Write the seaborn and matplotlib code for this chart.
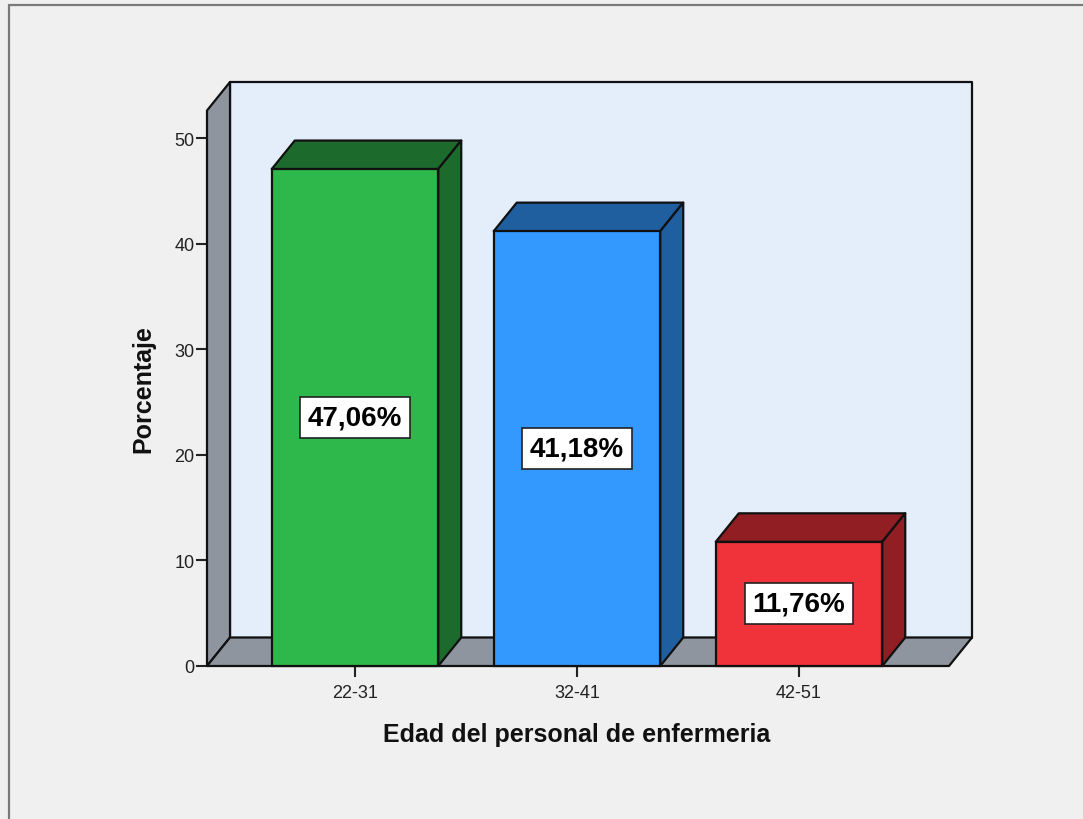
import matplotlib
matplotlib.use("Agg")
import matplotlib.pyplot as plt
from matplotlib.patches import Polygon, Rectangle
from matplotlib.lines import Line2D
import seaborn as sns
import pandas as pd

# Data
categories = ["22-31", "32-41", "42-51"]
percentages = [47.06, 41.18, 11.76]
value_labels = ["47,06%", "41,18%", "11,76%"]
y_ticks = [0, 10, 20, 30, 40, 50]

x_title = "Edad del personal de enfermeria"
y_title = "Porcentaje"

# Styling
front_colors = ["#2eb84b", "#3399ff", "#f0323a"]
shade_colors = ["#1d6b2c", "#1f5f9f", "#911e22"]
wall_color = "#e3eefa"
frame_gray = "#8e959e"
bg = "#f0f0f0"

sns.set_theme(style="white")
plt.rcParams["font.family"] = ["Liberation Sans", "DejaVu Sans"]

W, H = 1083, 820
fig = plt.figure(figsize=(W / 100, H / 100), dpi=100, facecolor=bg)

# axes frame in pixels: front-left x=207, back-right x=972, floor y=667, top y=83
left_px, right_px, bottom_px, top_px = 207, 972, 667, 83
ax = fig.add_axes([left_px / W, (H - bottom_px) / H,
                   (right_px - left_px) / W, (bottom_px - top_px) / H])
ax.set_facecolor("none")

px_per_cat = 222.0
px_per_unit = 10.56
xl = (left_px - 355) / px_per_cat
xr = (right_px - 355) / px_per_cat
ytop = (bottom_px - top_px) / px_per_unit
dx = 23 / px_per_cat
dy = 28.5 / px_per_unit

edge_kw = dict(edgecolor="#111111", linewidth=1.6, clip_on=False, joinstyle="round")

# back wall, left wall and floor
ax.add_patch(Polygon([(xl + dx, dy), (xr, dy), (xr, ytop), (xl + dx, ytop)],
                     facecolor=wall_color, zorder=1, **edge_kw))
ax.add_patch(Polygon([(xl, 0), (xl + dx, dy), (xl + dx, ytop), (xl, ytop - dy)],
                     facecolor=frame_gray, zorder=1, **edge_kw))
ax.add_patch(Polygon([(xl, 0), (xr - dx, 0), (xr, dy), (xl + dx, dy)],
                     facecolor=frame_gray, zorder=1, **edge_kw))

df = pd.DataFrame({"edad": categories, "pct": percentages})
sns.barplot(data=df, x="edad", y="pct", hue="edad", palette=front_colors,
            legend=False, width=0.75, edgecolor="#111111", linewidth=1.6,
            saturation=1, ax=ax, zorder=4)

bars = [p for p in ax.patches if isinstance(p, Rectangle) and p.get_height() > 0]
bars.sort(key=lambda p: p.get_x())
for bar, shade, lab in zip(bars, shade_colors, value_labels):
    x0 = bar.get_x()
    w = bar.get_width()
    h = bar.get_height()
    bar.set_clip_on(False)
    # top face
    ax.add_patch(Polygon([(x0, h), (x0 + w, h), (x0 + w + dx, h + dy), (x0 + dx, h + dy)],
                         facecolor=shade, zorder=3, **edge_kw))
    # right side face
    ax.add_patch(Polygon([(x0 + w, 0), (x0 + w + dx, dy), (x0 + w + dx, h + dy), (x0 + w, h)],
                         facecolor=shade, zorder=3, **edge_kw))
    ax.text(x0 + w / 2, h / 2, lab, ha="center", va="center", fontsize=20,
            fontweight="bold", color="black", zorder=6,
            bbox=dict(boxstyle="square,pad=0.27", facecolor="white",
                      edgecolor="#222222", linewidth=1.2))

ax.set_xlim(xl, xr)
ax.set_ylim(0, ytop)
for s in ax.spines.values():
    s.set_visible(False)

ax.set_yticks(y_ticks)
ax.set_yticklabels([str(t) for t in y_ticks])
ax.tick_params(axis="both", direction="out", length=8, width=1.5, color="#222222",
               labelsize=13, labelcolor="#222222", left=True, bottom=True)
ax.tick_params(axis="y", pad=1)
ax.tick_params(axis="x", pad=5)

ax.set_xlabel(x_title, fontsize=18, fontweight="bold", color="#111111")
ax.set_ylabel(y_title, fontsize=18, fontweight="bold", color="#111111")
# axis title placement (axes fraction)
ax.xaxis.set_label_coords((577 - left_px) / (right_px - left_px),
                          -(735 - bottom_px) / (bottom_px - top_px))
ax.yaxis.set_label_coords(-(left_px - 143) / (right_px - left_px),
                          (bottom_px - 389) / (bottom_px - top_px))
ax.xaxis.label.set_verticalalignment("center")
ax.yaxis.label.set_verticalalignment("center")

# outer frame lines along top and left
fig.add_artist(Line2D([9 / W, 1.0], [1 - 6 / H, 1 - 6 / H], color="#7a7a7a",
                      linewidth=1.6, transform=fig.transFigure))
fig.add_artist(Line2D([9 / W, 9 / W], [0.0, 1 - 6 / H], color="#7a7a7a",
                      linewidth=1.6, transform=fig.transFigure))

fig.savefig("out.png", dpi=100, facecolor=bg)
